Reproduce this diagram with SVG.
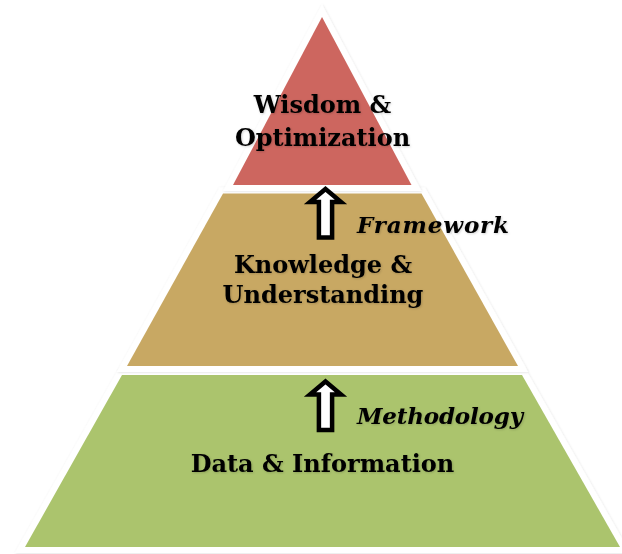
<svg xmlns="http://www.w3.org/2000/svg" width="622" height="554" viewBox="0 0 622 554">
  <style>
    .tier { stroke: #ffffff; stroke-width: 12; stroke-linejoin: miter; stroke-miterlimit: 10; paint-order: stroke; filter: url(#sh); }
    .label { font-family: "DejaVu Serif", "Liberation Serif", serif; font-weight: bold; font-size: 24px; fill: #000000; text-anchor: middle; filter: url(#tsh); }
    .side { font-family: "DejaVu Serif", "Liberation Serif", serif; font-weight: bold; font-style: italic; font-size: 23px; fill: #000000; filter: url(#tsh); }
    .arrow { fill: #ffffff; stroke: #000000; stroke-width: 4.5; stroke-linejoin: miter; }
  </style>
  <defs>
    <filter id="sh" x="-10%" y="-10%" width="120%" height="120%">
      <feDropShadow dx="0.5" dy="0.5" stdDeviation="1.2" flood-color="#000000" flood-opacity="0.12"/>
    </filter>
    <filter id="tsh" x="-10%" y="-20%" width="120%" height="140%">
      <feDropShadow dx="0.8" dy="0.8" stdDeviation="0.8" flood-color="#000000" flood-opacity="0.2"/>
    </filter>
    <path id="up" class="arrow" d="M0,3 L15.5,16 L6.6,16 L6.6,51.5 L-6.6,51.5 L-6.6,16 L-15.5,16 Z"/>
  </defs>

  <g id="data-information">
    <polygon class="tier" fill="#ABC46D" points="122,375 522,375 620,547 25,547"/>
    <text class="label" x="322.5" y="472">Data &amp; Information</text>
  </g>

  <g id="knowledge-understanding">
    <polygon class="tier" fill="#C8A864" points="223,193.5 421.5,193.5 518,366 127,366"/>
    <text class="label" x="323" y="273">Knowledge &amp;</text>
    <text class="label" x="323" y="303">Understanding</text>
  </g>

  <g id="wisdom-optimization">
    <polygon class="tier" fill="#CD665F" points="322,17 411.5,185 233,185"/>
    <text class="label" x="322.5" y="113">Wisdom &amp;</text>
    <text class="label" x="322.5" y="146">Optimization</text>
  </g>

  <g id="connectors">
    <use href="#up" x="325.5" y="186"/>
    <use href="#up" x="325.5" y="378.5"/>
    <text class="side" x="357" y="233" textLength="152" lengthAdjust="spacing">Framework</text>
    <text class="side" x="357" y="423.5" textLength="166" lengthAdjust="spacing">Methodology</text>
  </g>
</svg>
